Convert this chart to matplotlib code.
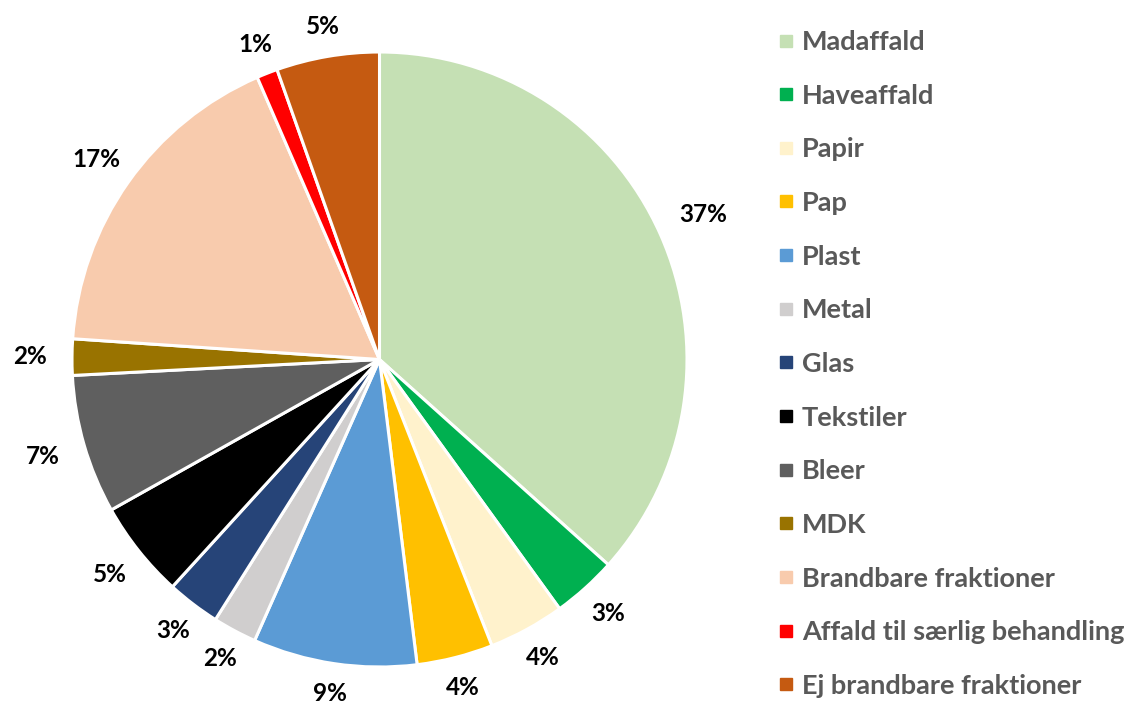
import matplotlib

matplotlib.use("Agg")
import matplotlib.pyplot as plt
import numpy as np
from matplotlib.lines import Line2D


CATEGORIES = [
    "Madaffald",
    "Haveaffald",
    "Papir",
    "Pap",
    "Plast",
    "Metal",
    "Glas",
    "Tekstiler",
    "Bleer",
    "MDK",
    "Brandbare fraktioner",
    "Affald til særlig behandling",
    "Ej brandbare fraktioner",
]
SHARES = [36.6, 3.4, 4.0, 4.0, 8.6, 2.3, 2.8, 5.1, 7.3, 1.9, 17.4, 1.1, 5.4]
COLORS = [
    "#C5E0B4",
    "#00B050",
    "#FFF2CC",
    "#FFC000",
    "#5B9BD5",
    "#D0CECE",
    "#264478",
    "#000000",
    "#5F5F5F",
    "#997300",
    "#F8CBAD",
    "#FF0000",
    "#C55A11",
]

FONT = ["Lato", "DejaVu Sans"]

W, H = 1133, 704
fig = plt.figure(figsize=(W / 100, H / 100), dpi=100)

# pie centre and radius in pixels
cx, cy, r = 379.5, 359.5, 307.5
ax = fig.add_axes([(cx - r) / W, (H - cy - r) / H, 2 * r / W, 2 * r / H])

wedges, _ = ax.pie(
    SHARES,
    colors=COLORS,
    startangle=90,
    counterclock=False,
    radius=1,
    wedgeprops=dict(edgecolor="white", linewidth=2.2),
)
ax.set_xlim(-1, 1)
ax.set_ylim(-1, 1)
ax.set_aspect("equal")
ax.axis("off")

# percentage labels just outside the rim, box edge a fixed gap from the pie
total = sum(SHARES)
renderer = fig.canvas.get_renderer()
gap = 19 / r
for w, share in zip(wedges, SHARES):
    mid = np.deg2rad((w.theta1 + w.theta2) / 2)
    ux, uy = np.cos(mid), np.sin(mid)
    t = ax.text(0, 0, f"{100 * share / total:.0f}%", ha="center", va="center",
                fontsize=17.5, fontweight="bold", color="black", family=FONT)
    bb = t.get_window_extent(renderer)
    hw, hh = (bb.width / 2 + 6) / r, bb.height / 2 / r
    d = min(hw / max(abs(ux), 1e-6), hh / max(abs(uy), 1e-6))
    dist = 1 + gap + d
    t.set_position((dist * ux, dist * uy))

handles = [
    Line2D([], [], marker="s", linestyle="none", markersize=8.6,
           markerfacecolor=c, markeredgecolor=c)
    for c in COLORS
]
fig.legend(
    handles,
    CATEGORIES,
    loc="upper left",
    bbox_to_anchor=(779 / W, 1 - 30 / H),
    frameon=False,
    handlelength=0.5,
    handletextpad=0.34,
    labelspacing=1.095,
    borderpad=0,
    borderaxespad=0,
    prop=dict(family=FONT, weight="bold", size=19.5),
    labelcolor="#595959",
)

fig.savefig("out.png")
